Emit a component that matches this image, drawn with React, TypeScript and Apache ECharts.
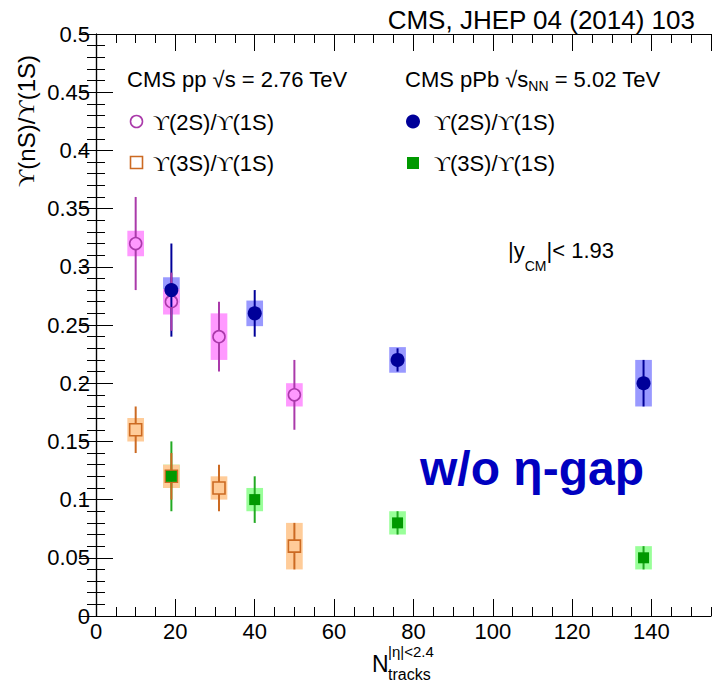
import React, { useEffect, useRef } from 'react';
import * as echarts from 'echarts';

// ---- data ----
const ppX = [10, 19, 31, 50];
const pp2S = [0.32, 0.27, 0.24, 0.19];
const pp2SStat = [0.04, 0.025, 0.03, 0.03];
const pp2SSyst = [0.011, 0.011, 0.02, 0.01];
const pp3S = [0.16, 0.12, 0.11, 0.06];
const pp3SStat = [0.02, 0.02, 0.02, 0.02];
const pp3SSyst = [0.01, 0.01, 0.01, 0.02];

const pPbX = [19, 40, 76, 138];
const pPb2S = [0.28, 0.26, 0.22, 0.2];
const pPb2SStat = [0.04, 0.02, 0.01, 0.02];
const pPb2SSyst = [0.011, 0.011, 0.011, 0.02];
const pPb3S = [0.12, 0.1, 0.08, 0.05];
const pPb3SStat = [0.03, 0.02, 0.01, 0.01];
const pPb3SSyst = [0.01, 0.01, 0.01, 0.01];

const X_MIN = 0;
const X_MAX = 155;
const Y_MIN = 0;
const Y_MAX = 0.5;

// ---- styles ----
const SANS = '"Liberation Sans", Arial, Helvetica, sans-serif';
const SERIF = '"Liberation Serif", "DejaVu Serif", serif';
const BOX_HALF = 2.1;

const C = {
  ppPinkBox: '#ff99ff',
  ppPink: '#aa3aaa',
  ppOrangeBox: '#ffcc99',
  ppOrange: '#cc6a22',
  pPbBlueBox: '#9999ff',
  pPbBlue: '#000099',
  pPbGreenBox: '#99ff99',
  pPbGreen: '#009900',
};

let measureCtx: CanvasRenderingContext2D | null = null;
function measure(text: string, size: number, family: string, weight = 'normal') {
  if (!measureCtx) measureCtx = document.createElement('canvas').getContext('2d');
  measureCtx!.font = `${weight} ${size}px ${family}`;
  return measureCtx!.measureText(text).width;
}

type Seg = { text: string; size: number; family?: string; weight?: string; dy?: number; color?: string; dx?: number };
function chain(x: number, y: number, segs: Seg[]) {
  const out: any[] = [];
  let cx = x;
  segs.forEach((s) => {
    const fam = s.family || SANS;
    const w = s.weight || 'normal';
    cx += s.dx || 0;
    out.push({
      type: 'text',
      x: cx,
      y: y + (s.dy || 0),
      silent: true,
      style: {
        text: s.text,
        fontSize: s.size,
        fontFamily: fam,
        fontWeight: w,
        fill: s.color || '#000',
        align: 'left',
        verticalAlign: 'middle',
      },
    });
    cx += measure(s.text, s.size, fam, w);
  });
  return out;
}

function upsLabel(x: number, y: number, n: string, size: number) {
  return chain(x, y, [
    { text: 'ϒ', size, family: SERIF },
    { text: `(${n})/`, size },
    { text: 'ϒ', size, family: SERIF },
    { text: '(1S)', size },
  ]);
}

function boxSeries(xs: number[], ys: number[], syst: number[], fill: string) {
  return {
    type: 'custom',
    coordinateSystem: 'cartesian2d',
    xAxisIndex: 0,
    yAxisIndex: 0,
    silent: true,
    data: xs.map((x, i) => [x, ys[i], syst[i]]),
    renderItem: (_p: any, api: any) => {
      const x = api.value(0);
      const y = api.value(1);
      const s = api.value(2);
      const p1 = api.coord([x - BOX_HALF, y + s]);
      const p2 = api.coord([x + BOX_HALF, y - s]);
      return {
        type: 'rect',
        shape: { x: p1[0], y: p1[1], width: p2[0] - p1[0], height: p2[1] - p1[1] },
        style: { fill },
      };
    },
  };
}

function errSeries(xs: number[], ys: number[], stat: number[], stroke: string, gap: number) {
  return {
    type: 'custom',
    coordinateSystem: 'cartesian2d',
    xAxisIndex: 0,
    yAxisIndex: 0,
    silent: true,
    data: xs.map((x, i) => [x, ys[i], stat[i]]),
    renderItem: (_p: any, api: any) => {
      const x = api.value(0);
      const y = api.value(1);
      const e = api.value(2);
      const t = api.coord([x, y + e]);
      const c = api.coord([x, y]);
      const b = api.coord([x, y - e]);
      const children: any[] = [];
      if (c[1] - gap > t[1]) {
        children.push({ type: 'line', shape: { x1: t[0], y1: t[1], x2: c[0], y2: c[1] - gap }, style: { stroke, lineWidth: 2 } });
      }
      if (c[1] + gap < b[1]) {
        children.push({ type: 'line', shape: { x1: c[0], y1: c[1] + gap, x2: b[0], y2: b[1] }, style: { stroke, lineWidth: 2 } });
      }
      return { type: 'group', children };
    },
  };
}

function markerSeries(xs: number[], ys: number[], symbol: string, size: number, fill: string, border: string) {
  return {
    type: 'scatter',
    xAxisIndex: 0,
    yAxisIndex: 0,
    silent: true,
    symbol,
    symbolSize: size,
    data: xs.map((x, i) => [x, ys[i]]),
    itemStyle: { color: fill, borderColor: border, borderWidth: fill === 'rgba(0,0,0,0)' ? 1.6 : 0, opacity: 1 },
  };
}

const axisLineStyle = { color: '#000', width: 1.2 };
const tickStyle = { color: '#000', width: 1 };

function xAxisDef(position: string, interval: number, len: number, labels: boolean, line: boolean) {
  return {
    type: 'value',
    min: X_MIN,
    max: X_MAX,
    interval,
    position,
    axisLine: { show: line, lineStyle: axisLineStyle },
    axisTick: { show: true, inside: true, length: len, lineStyle: tickStyle },
    axisLabel: labels
      ? { show: true, showMaxLabel: false, fontSize: 22, fontFamily: SANS, color: '#000', margin: 4 }
      : { show: false },
    splitLine: { show: false },
  };
}

function yAxisDef(position: string, labels: boolean) {
  return {
    type: 'value',
    min: Y_MIN,
    max: Y_MAX,
    interval: 0.05,
    position,
    axisLine: { show: true, lineStyle: axisLineStyle },
    axisTick: { show: true, inside: true, length: 17, lineStyle: tickStyle },
    minorTick: { show: true, splitNumber: 5, length: 9, lineStyle: tickStyle },
    axisLabel: labels
      ? { show: true, fontSize: 22, fontFamily: SANS, color: '#000', margin: 6 }
      : { show: false },
    splitLine: { show: false },
    minorSplitLine: { show: false },
  };
}

export default function App() {
  const ref = useRef<HTMLDivElement>(null);
  useEffect(() => {
    document.body.style.margin = '0';
    if (!ref.current) return;
    const chart = echarts.init(ref.current, undefined, { renderer: 'svg' });

    const graphics: any[] = [];
    // top-right citation
    graphics.push({
      type: 'text',
      x: 695,
      y: 20,
      silent: true,
      style: { text: 'CMS, JHEP 04 (2014) 103', fontSize: 26, fontFamily: SANS, fill: '#000', align: 'right', verticalAlign: 'middle' },
    });
    // legend headers
    graphics.push(...chain(127, 79, [{ text: 'CMS pp √s = 2.76 TeV', size: 22 }]));
    graphics.push(
      ...chain(405, 79, [
        { text: 'CMS pPb √s', size: 22 },
        { text: 'NN', size: 14, dy: 7 },
        { text: ' = 5.02 TeV', size: 22 },
      ])
    );
    // legend markers
    graphics.push({ type: 'circle', shape: { cx: 136.5, cy: 121.5, r: 6 }, silent: true, style: { fill: 'none', stroke: C.ppPink, lineWidth: 1.6 } });
    graphics.push({ type: 'rect', shape: { x: 130.5, y: 156.5, width: 12, height: 12 }, silent: true, style: { fill: 'none', stroke: C.ppOrange, lineWidth: 1.6 } });
    graphics.push({ type: 'circle', shape: { cx: 413, cy: 121.5, r: 7 }, silent: true, style: { fill: C.pPbBlue } });
    graphics.push({ type: 'rect', shape: { x: 407, y: 157, width: 12, height: 12 }, silent: true, style: { fill: C.pPbGreen } });
    // legend labels
    graphics.push(...upsLabel(153, 122, '2S', 22));
    graphics.push(...upsLabel(153, 163, '3S', 22));
    graphics.push(...upsLabel(434, 122, '2S', 22));
    graphics.push(...upsLabel(434, 163, '3S', 22));
    // rapidity label
    graphics.push(
      ...chain(508, 250, [
        { text: '|y', size: 22 },
        { text: 'CM', size: 14, dy: 16 },
        { text: '|< 1.93', size: 22 },
      ])
    );
    // big label
    graphics.push(...chain(420, 468, [{ text: 'w/o η-gap', size: 48, weight: 'bold', color: '#0000c0' }]));
    // x-axis title
    graphics.push(...chain(372, 664, [{ text: 'N', size: 23 }]));
    graphics.push(...chain(388, 651, [{ text: '|η|<2.4', size: 15 }]));
    graphics.push(...chain(388, 674, [{ text: 'tracks', size: 16 }]));
    // y-axis title (rotated)
    graphics.push({
      type: 'group',
      x: 26,
      y: 187,
      rotation: Math.PI / 2,
      silent: true,
      children: chain(0, 0, [
        { text: 'ϒ', size: 24, family: SERIF },
        { text: '(nS)/', size: 24 },
        { text: 'ϒ', size: 24, family: SERIF },
        { text: '(1S)', size: 24 },
      ]),
    });

    const option: any = {
      animation: false,
      backgroundColor: '#fff',
      grid: { left: 96, right: 2, top: 34, bottom: 65, containLabel: false },
      xAxis: [
        xAxisDef('bottom', 20, 17, true, true),
        xAxisDef('bottom', 5, 9, false, false),
        xAxisDef('top', 20, 17, false, true),
        xAxisDef('top', 5, 9, false, false),
      ],
      yAxis: [yAxisDef('left', true), yAxisDef('right', false)],
      series: [
        boxSeries(pPbX, pPb2S, pPb2SSyst, C.pPbBlueBox),
        boxSeries(pPbX, pPb3S, pPb3SSyst, C.pPbGreenBox),
        boxSeries(ppX, pp2S, pp2SSyst, C.ppPinkBox),
        boxSeries(ppX, pp3S, pp3SSyst, C.ppOrangeBox),
        errSeries(pPbX, pPb2S, pPb2SStat, C.pPbBlue, 0),
        errSeries(pPbX, pPb3S, pPb3SStat, '#22aa22', 0),
        errSeries(ppX, pp2S, pp2SStat, C.ppPink, 6),
        errSeries(ppX, pp3S, pp3SStat, C.ppOrange, 6),
        markerSeries(ppX, pp2S, 'circle', 12, 'rgba(0,0,0,0)', C.ppPink),
        markerSeries(ppX, pp3S, 'rect', 12, 'rgba(0,0,0,0)', C.ppOrange),
        markerSeries(pPbX, pPb2S, 'circle', 14, C.pPbBlue, C.pPbBlue),
        markerSeries(pPbX, pPb3S, 'rect', 11, C.pPbGreen, C.pPbGreen),
      ],
      graphic: graphics,
    };
    chart.setOption(option);
    return () => chart.dispose();
  }, []);
  return <div ref={ref} style={{ position: 'absolute', left: 0, top: 0, width: 713, height: 681 }} />;
}
